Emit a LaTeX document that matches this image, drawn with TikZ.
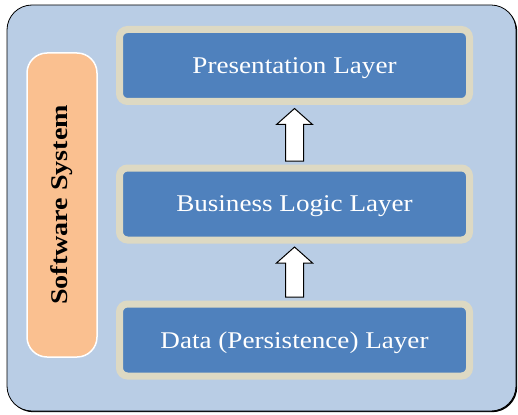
\documentclass[tikz,border=0pt]{standalone}
\usepackage{fontspec}
\setmainfont{Liberation Serif}
\usetikzlibrary{shadows,calc}
\definecolor{panelblue}{HTML}{B9CDE5}
\definecolor{layerblue}{HTML}{4F81BD}
\definecolor{layerrim}{HTML}{DDD9C3}
\definecolor{sysorange}{HTML}{FAC090}
\newcommand{\widetext}[1]{\scalebox{1.13}[1]{#1}}

\begin{document}
\begin{tikzpicture}[x=1pt, y=-1pt,
                    layer/.style={draw=layerrim, line width=7pt, fill=layerblue, rounded corners=8pt,
                        minimum width=350pt, minimum height=72pt, inner sep=0pt, text depth=0pt,
                        text=white, font=\fontsize{24}{28}\selectfont},
                    blockarr/.style={draw=black, line width=1pt, fill=white, line join=miter,
                        to path={($(\tikztostart)+(-9,0)$) -- ($(\tikztotarget)+(-9,16)$)
                            -- ($(\tikztotarget)+(-18,16)$) -- (\tikztotarget)
                            -- ($(\tikztotarget)+(18,16)$) -- ($(\tikztotarget)+(9,16)$)
                            -- ($(\tikztostart)+(9,0)$) -- cycle}}
                ]
                \useasboundingbox (0,0) rectangle (518,414);
                \draw[fill=panelblue, rounded corners=25pt, line width=0.8pt,
                      drop shadow={shadow xshift=1.2pt, shadow yshift=-1.2pt, fill=black, opacity=1}]
                      (7,5) rectangle (516,411);
                \node[draw=white, line width=1.5pt, fill=sysorange, rounded corners=20pt,
                      minimum width=70pt, minimum height=304pt, inner sep=0pt] (sys) at (62,205) {};
                \node[rotate=90, font=\fontsize{24}{28}\selectfont\bfseries] (syslabel) at (sys.center)
                      {\scalebox{1.17}[1]{Software System}};
                \node[layer] (pres) at (294.5,65.5) {\widetext{Presentation Layer}};
                \node[layer] (logic) at (294.5,204) {\widetext{Business Logic Layer}};
                \node[layer] (data) at (294.5,340) {\widetext{Data (Persistence) Layer}};
                \coordinate (tipA) at ($(pres.south)+(0,3.5)$);
                \coordinate (tipB) at ($(logic.south)+(0,3.5)$);
                \draw[blockarr] ($(logic.north)+(0,-3.5)$) to (tipA);
                \draw[blockarr] ($(data.north)+(0,-3.5)$) to (tipB);
            \end{tikzpicture}
\end{document}
